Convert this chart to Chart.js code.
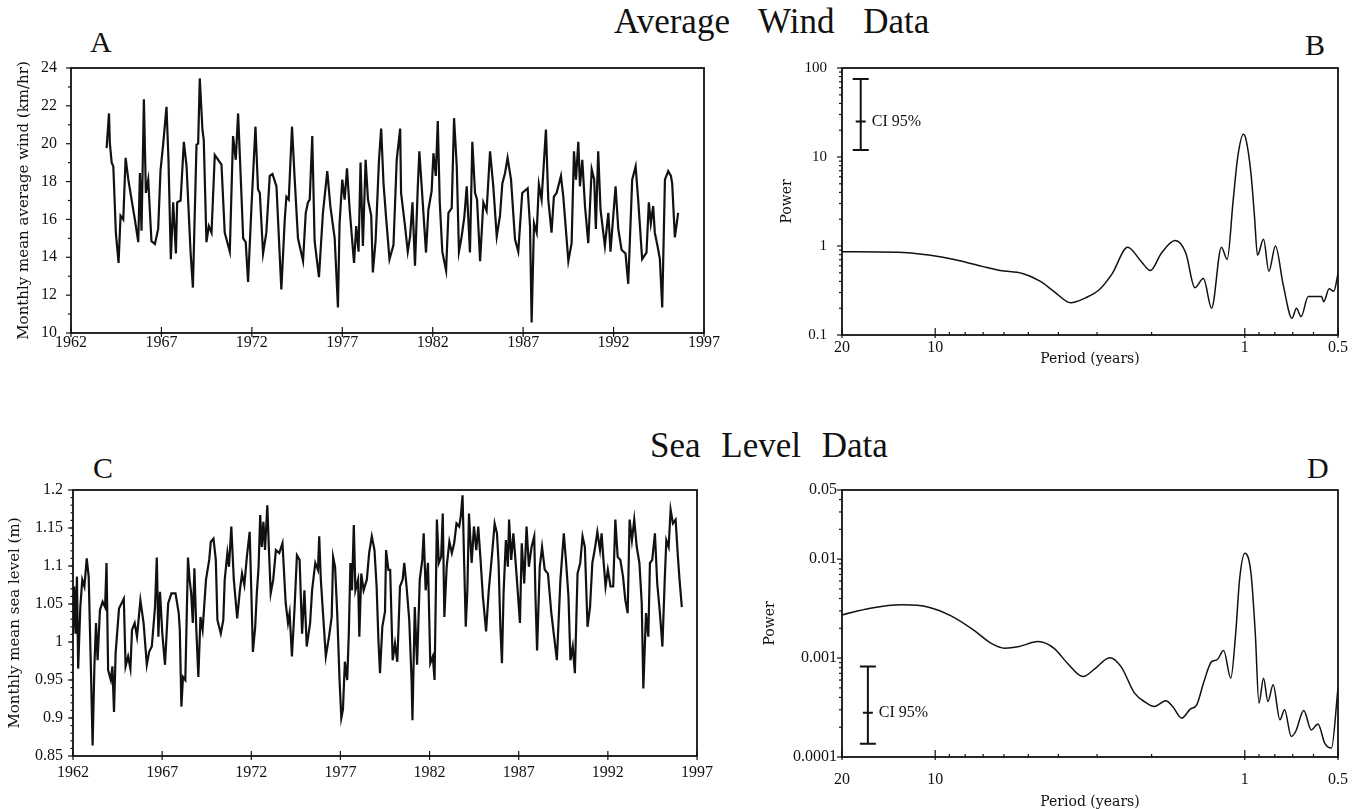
<!DOCTYPE html>
<html>
<head>
<meta charset="utf-8">
<script src="https://cdn.jsdelivr.net/npm/chart.js@4.4.1/dist/chart.umd.min.js"></script>
<style>
  body { margin: 0; background: #fff; width: 1362px; height: 809px; position: relative; overflow: hidden;
         font-family: 'Liberation Serif', serif; color: #111; }
  canvas { position: absolute; }
  .t { position: absolute; white-space: nowrap; line-height: 1; }
</style>
</head>
<body>
<div class="t" style="left:614px; top:4px; font-size:35px; word-spacing:20px;">Average Wind Data</div>
<div class="t" style="left:650px; top:428px; font-size:35px; word-spacing:12px;">Sea Level Data</div>
<div class="t" style="left:90px; top:27px; font-size:30px;">A</div>
<div class="t" style="left:1305px; top:30px; font-size:30px;">B</div>
<div class="t" style="left:93px; top:453px; font-size:30px;">C</div>
<div class="t" style="left:1307px; top:453px; font-size:30px;">D</div>

<canvas id="chartA" width="720" height="370" style="left:0; top:0;"></canvas>
<canvas id="chartB" width="622" height="375" style="left:740px; top:0;"></canvas>
<canvas id="chartC" width="720" height="389" style="left:0; top:420px;"></canvas>
<canvas id="chartD" width="622" height="389" style="left:740px; top:420px;"></canvas>

<script>
// ---- data ----
// A: monthly mean average wind (km/hr)
var windYear = [1963.97,1964.10,1964.15,1964.25,1964.34,1964.48,1964.63,1964.74,1964.89,1965.02,
  1965.17,1965.35,1965.53,1965.72,1965.81,1965.90,1966.03,1966.14,1966.27,1966.45,
  1966.64,1966.82,1966.95,1967.10,1967.28,1967.39,1967.52,1967.65,1967.80,1967.87,
  1968.06,1968.24,1968.39,1968.61,1968.74,1968.94,1969.03,1969.12,1969.27,1969.34,
  1969.49,1969.62,1969.77,1969.95,1970.14,1970.32,1970.50,1970.78,1970.96,1971.11,
  1971.24,1971.42,1971.52,1971.66,1971.79,1971.98,1972.20,1972.34,1972.44,1972.62,
  1972.80,1972.99,1973.14,1973.36,1973.63,1973.82,1973.91,1974.04,1974.22,1974.37,
  1974.55,1974.83,1974.98,1975.10,1975.20,1975.34,1975.47,1975.71,1975.93,1976.17,
  1976.34,1976.58,1976.76,1976.85,1977.00,1977.13,1977.26,1977.41,1977.65,1977.77,
  1977.90,1978.01,1978.14,1978.29,1978.42,1978.60,1978.69,1978.84,1979.03,1979.15,
  1979.28,1979.43,1979.61,
  1979.83,1980.01,1980.20,1980.25,1980.47,1980.62,1980.75,1980.88,1981.02,1981.17,
  1981.26,1981.39,1981.63,1981.76,1981.94,1982.04,1982.17,1982.28,1982.39,1982.53,
  1982.74,1982.87,1983.05,1983.18,1983.33,1983.45,1983.60,1983.75,1983.88,1984.06,
  1984.19,1984.34,1984.45,1984.62,1984.80,1984.98,1985.17,1985.35,1985.54,1985.72,
  1985.85,1986.00,1986.14,1986.33,1986.55,1986.73,1986.95,1987.25,1987.38,1987.47,
  1987.60,1987.75,1987.87,1988.02,1988.26,1988.39,1988.57,1988.70,1988.85,1989.09,
  1989.22,1989.50,1989.68,1989.81,1989.92,1990.05,1990.14,1990.27,1990.42,1990.60,
  1990.79,1990.93,1991.02,1991.15,1991.28,1991.52,1991.71,1991.83,1992.11,1992.26,
  1992.44,1992.66,1992.81,1993.03,1993.22,1993.36,1993.58,1993.82,1993.95,1994.06,
  1994.19,1994.28,1994.43,1994.56,1994.69,1994.84,1995.02,1995.17,1995.24,1995.39,
  1995.57];
var windSpeed = [19.77,21.6,20.0,19.0,18.8,15.3,13.7,16.2,16.0,19.25,
  18.1,17.05,16.0,14.8,18.45,15.4,22.35,17.4,18.1,14.85,
  14.7,15.5,18.6,20.0,21.95,19.15,13.9,16.9,14.2,16.9,
  17.0,20.1,18.8,14.3,12.4,19.95,20.0,23.45,20.7,20.2,
  14.8,15.65,15.3,19.4,19.15,18.9,15.3,14.3,20.4,19.15,
  21.6,17.4,15.0,14.8,12.7,16.7,20.9,17.6,17.4,14.2,
  15.3,18.3,18.4,17.75,12.3,16.0,17.2,17.05,20.9,18.1,
  15.0,13.8,16.35,16.9,17.05,20.4,14.85,12.95,16.35,18.55,
  16.7,15.0,11.35,15.8,18.1,17.05,18.7,16.5,13.7,15.65,
  14.3,19.0,14.6,19.15,17.05,16.2,13.2,14.85,19.15,20.8,
  17.9,16.0,13.9,
  14.65,19.15,20.8,17.4,15.65,14.3,15.1,16.9,13.55,17.6,
  19.6,17.75,14.25,16.5,17.5,19.5,18.3,21.2,16.9,14.3,
  13.3,16.35,16.6,21.35,18.8,14.3,15.1,16.15,17.75,14.25,
  20.1,17.4,17.05,13.8,16.9,16.45,19.6,17.75,15.1,16.2,
  17.9,18.45,19.25,18.1,14.95,14.3,17.4,17.65,15.65,10.55,
  15.8,15.3,17.85,17.05,20.75,17.05,15.3,17.2,17.4,18.3,
  17.2,13.8,14.75,19.6,18.1,20.1,17.75,19.15,16.7,14.75,
  18.65,18.1,15.5,19.6,16.5,14.6,16.35,14.3,17.75,15.5,
  14.4,14.2,12.6,18.1,18.8,17.05,13.9,14.25,16.9,15.8,
  16.7,15.3,14.6,13.9,11.35,18.1,18.55,18.3,17.9,15.05,
  16.35];

// C: monthly mean sea level (m)
var seaYear = [1962.00,1962.07,1962.15,1962.22,1962.29,1962.41,1962.52,1962.64,1962.77,1962.88,
  1963.01,1963.10,1963.20,1963.29,1963.38,1963.51,1963.66,1963.80,1963.88,1963.97,
  1964.12,1964.21,1964.30,1964.39,1964.58,1964.85,1964.95,1965.09,1965.22,1965.31,
  1965.46,1965.59,1965.78,1965.96,1966.14,1966.27,1966.42,1966.60,1966.70,1966.79,
  1966.88,1967.01,1967.16,1967.34,1967.52,1967.75,1967.93,1967.99,1968.08,1968.17,
  1968.30,1968.45,1968.54,1968.63,1968.72,1968.81,1968.91,1969.03,1969.15,1969.27,
  1969.46,1969.64,1969.73,1969.88,1970.01,1970.10,1970.29,1970.43,1970.51,1970.66,
  1970.75,1970.88,1971.02,1971.21,1971.36,1971.48,1971.61,1971.76,1971.91,1972.00,
  1972.09,1972.22,1972.31,1972.41,1972.50,1972.59,1972.68,1972.77,1972.90,1972.99,
  1973.09,1973.23,1973.38,1973.57,1973.75,1973.93,1974.06,1974.15,1974.28,1974.43,
  1974.56,1974.71,1974.85,1974.98,1975.11,1975.30,1975.41,1975.59,1975.74,1975.81,
  1975.90,1976.00,1976.18,1976.36,1976.51,1976.59,1976.70,1976.82,1976.95,1977.05,
  1977.14,1977.25,1977.38,1977.47,1977.56,1977.65,1977.75,1977.84,1977.99,1978.06,
  1978.17,1978.30,1978.48,1978.61,1978.76,1978.91,1979.03,1979.13,1979.22,1979.35,
  1979.50,
  1979.56,1979.69,1979.79,1979.93,1980.06,1980.19,1980.34,1980.49,1980.58,1980.71,
  1980.86,1980.99,1981.04,1981.17,1981.30,1981.45,1981.59,1981.67,1981.78,1981.91,
  1982.04,1982.18,1982.28,1982.41,1982.52,1982.65,1982.74,1982.83,1982.96,1983.11,
  1983.25,1983.38,1983.51,1983.66,1983.75,1983.85,1983.94,1984.03,1984.12,1984.21,
  1984.36,1984.49,1984.62,1984.73,1984.86,1984.99,1985.17,1985.32,1985.51,1985.65,
  1985.78,1985.87,1985.97,1986.06,1986.15,1986.28,1986.39,1986.46,1986.58,1986.70,
  1986.83,1986.94,1987.07,1987.17,1987.31,1987.44,1987.57,1987.72,1987.87,1987.94,
  1988.03,1988.18,1988.31,1988.46,1988.64,1988.83,1989.14,1989.34,1989.53,1989.66,
  1989.79,1989.90,1990.03,1990.15,1990.30,1990.45,1990.58,1990.71,1990.86,1991.00,
  1991.13,1991.26,1991.41,1991.56,1991.65,1991.74,1991.87,1992.00,1992.15,1992.30,
  1992.42,1992.55,1992.70,1992.85,1992.98,1993.11,1993.22,1993.35,1993.48,1993.62,
  1993.77,1993.90,1993.99,1994.14,1994.27,1994.36,1994.49,1994.64,1994.77,1994.92,
  1995.06,1995.19,1995.28,1995.41,1995.52,1995.65,1995.80,1995.93,1996.02,1996.15];
var seaLevel = [1.011,1.073,1.011,1.086,0.965,1.046,1.082,1.073,1.11,1.086,
  0.959,0.864,0.968,1.025,0.976,1.042,1.053,1.046,1.104,0.963,
  0.95,0.968,0.908,0.985,1.044,1.057,0.968,0.981,0.965,1.016,
  1.025,1.007,1.055,1.025,0.970,0.987,0.994,1.046,1.111,1.007,
  1.066,1.011,0.970,1.051,1.064,1.064,1.038,1.016,0.915,0.954,
  0.95,1.111,1.082,1.064,1.025,1.097,1.02,0.954,1.033,1.016,
  1.082,1.108,1.132,1.136,1.108,1.029,1.011,1.029,1.082,1.117,
  1.099,1.152,1.082,1.031,1.068,1.09,1.075,1.114,1.145,1.068,
  0.987,1.02,1.064,1.099,1.167,1.125,1.158,1.121,1.18,1.121,
  1.064,1.082,1.121,1.117,1.13,1.051,1.025,1.038,0.981,1.046,
  1.114,1.108,1.011,1.068,0.994,1.025,1.068,1.104,1.095,1.139,
  1.082,1.046,0.981,1.007,1.033,1.112,1.099,1.038,0.95,0.9,
  0.911,0.974,0.95,1.011,1.104,1.068,1.154,1.068,1.082,1.007,
  1.09,1.068,1.082,1.117,1.139,1.121,1.073,1.003,0.959,1.02,
  1.04,
  1.121,1.095,1.095,0.976,0.998,0.974,1.073,1.082,1.104,1.073,
  1.029,0.95,0.897,1.046,0.970,1.082,1.108,1.143,1.068,1.104,
  0.972,0.981,0.95,1.161,1.104,1.112,1.169,1.033,1.099,1.132,
  1.117,1.13,1.156,1.152,1.165,1.193,1.104,1.02,1.068,1.169,
  1.104,1.152,1.121,1.152,1.108,1.06,1.014,1.068,1.117,1.156,
  1.143,1.104,1.02,0.972,1.064,1.134,1.099,1.161,1.108,1.143,
  1.104,1.068,1.025,1.13,1.077,1.152,1.099,1.125,1.139,1.06,
  0.989,1.099,1.125,1.095,1.09,1.038,0.976,1.082,1.143,1.104,
  1.06,0.976,0.994,0.959,1.09,1.104,1.139,1.125,1.02,1.046,
  1.104,1.121,1.145,1.121,1.143,1.112,1.073,1.095,1.073,1.073,
  1.161,1.112,1.108,1.086,1.055,1.038,1.161,1.134,1.161,1.125,
  1.104,1.051,0.939,1.038,1.007,1.104,1.108,1.143,1.077,1.038,
  0.994,1.082,1.134,1.125,1.174,1.156,1.161,1.112,1.082,1.046];

// B: power spectrum of the wind series
var windPeriod = [20,13.3,10.5,8.6,7.05,6.17,5.22,4.57,4.14,3.65,
  3.28,2.96,2.68,2.39,2.16,2.02,1.86,1.68,1.55,1.45,
  1.36,1.28,1.19,1.14,1.09,1.054,1.01,0.99,0.955,0.93,
  0.91,0.87,0.836,0.796,0.752,0.704,0.681,0.658,0.624,0.565,
  0.556,0.534,0.516,0.5];
var windPower = [0.86,0.85,0.79,0.70,0.59,0.53,0.49,0.40,0.31,0.23,
  0.26,0.32,0.49,0.97,0.67,0.53,0.83,1.15,0.83,0.34,
  0.43,0.20,0.97,0.71,3.3,10,18,15.5,6.5,2.1,
  0.79,1.19,0.52,1.0,0.37,0.154,0.2,0.161,0.27,0.27,
  0.237,0.33,0.31,0.49];

// D: power spectrum of the sea level series
var seaPeriod = [20,16.2,12.8,10.5,8.89,7.53,6.59,5.96,5.40,4.65,
  4.14,3.74,3.33,3.06,2.73,2.51,2.27,2.09,1.96,1.80,
  1.71,1.60,1.50,1.43,1.36,1.28,1.23,1.17,1.11,1.07,
  1.04,1.0,0.955,0.925,0.90,0.87,0.842,0.81,0.77,0.744,
  0.708,0.685,0.645,0.61,0.58,0.552,0.525,0.5];
var seaPower = [0.00273,0.00319,0.00345,0.00327,0.00267,0.00193,0.00141,0.00126,0.0013,0.00147,
  0.00126,0.000888,0.00065,0.000772,0.00101,0.00082,0.000442,0.000356,0.000324,0.00037,
  0.000324,0.000247,0.000305,0.000337,0.000557,0.000922,0.00096,0.00119,0.000626,0.00178,
  0.00616,0.01146,0.0072,0.00178,0.00035,0.000626,0.000364,0.000536,0.000238,0.0003,
  0.000161,0.000181,0.000295,0.000188,0.000216,0.000138,0.000123,0.000497];

// 95% confidence bars: [low, centre, high]
var windCI = [12, 25, 75];
var seaCI = [0.000136, 0.00028, 0.00082];

// tick labels
var yearTicks = [1962, 1967, 1972, 1977, 1982, 1987, 1992, 1997];
var windTicks = [10, 12, 14, 16, 18, 20, 22, 24];
var seaTicks = [0.85, 0.9, 0.95, 1, 1.05, 1.1, 1.15, 1.2];
var periodTicks = [20, 10, 1, 0.5];
var windPowerTicks = [0.1, 1, 10, 100];
var seaPowerTicks = [0.0001, 0.001, 0.01, 0.05];

// ---- helpers ----
Chart.defaults.font.family = "'Liberation Serif', serif";
Chart.defaults.color = '#111';

var INK = '#111';
var titleFont = { family: "'DejaVu Serif', serif", size: 15, lineHeight: 1 };

function points(xs, ys) {
  return xs.map(function (x, i) { return { x: x, y: ys[i] }; });
}
function onList(v, list, isLog) {
  return list.find(function (t) {
    return isLog ? Math.abs(Math.log(v / t)) < 1e-6 : Math.abs(v - t) < 1e-6;
  });
}
function labeller(list, isLog) {
  return function (v) {
    var t = onList(v, list, isLog);
    return t === undefined ? '' : String(t);
  };
}
function logMinors(lo, hi) {
  var out = [];
  for (var e = Math.floor(Math.log10(lo)); e <= Math.ceil(Math.log10(hi)); e++) {
    for (var k = 2; k <= 9; k++) {
      var v = k * Math.pow(10, e);
      if (v > lo * 1.0001 && v < hi * 0.9999) out.push(v);
    }
  }
  return out;
}
function steps(lo, hi, step) {
  var out = [];
  for (var v = lo; v <= hi + 1e-9; v += step) out.push(+v.toFixed(4));
  return out;
}

// frame round the plot area, and tick marks drawn through the scales
var frameTicks = {
  id: 'frameTicks',
  afterDraw: function (chart, args, opts) {
    var ctx = chart.ctx, a = chart.chartArea;
    ctx.save();
    ctx.strokeStyle = INK;
    ctx.lineWidth = 1.8;
    ctx.strokeRect(a.left, a.top, a.right - a.left, a.bottom - a.top);
    ctx.lineWidth = 1.2;
    (opts.marks || []).forEach(function (m) {
      var s = chart.scales[m.axis];
      m.values.forEach(function (v) {
        var p = s.getPixelForValue(v);
        ctx.beginPath();
        if (m.axis === 'x') {
          ctx.moveTo(p, a.bottom - m.inner);
          ctx.lineTo(p, a.bottom + m.outer);
        } else {
          ctx.moveTo(a.left + m.inner, p);
          ctx.lineTo(a.left - m.outer, p);
        }
        ctx.stroke();
      });
    });
    ctx.restore();
  }
};

// confidence interval bar
var ciBar = {
  id: 'ciBar',
  afterDatasetsDraw: function (chart, args, o) {
    if (!o.values) return;
    var ctx = chart.ctx;
    var x = chart.scales.x.getPixelForValue(o.period);
    var y = chart.scales.y;
    var lo = y.getPixelForValue(o.values[0]);
    var mid = y.getPixelForValue(o.values[1]);
    var hi = y.getPixelForValue(o.values[2]);
    ctx.save();
    ctx.strokeStyle = INK;
    ctx.lineWidth = 2;
    ctx.beginPath();
    ctx.moveTo(x, lo); ctx.lineTo(x, hi);
    ctx.moveTo(x - 8, lo); ctx.lineTo(x + 8, lo);
    ctx.moveTo(x - 8, hi); ctx.lineTo(x + 8, hi);
    ctx.moveTo(x - 5, mid); ctx.lineTo(x + 5, mid);
    ctx.stroke();
    ctx.fillStyle = INK;
    ctx.font = "16px 'Liberation Serif', serif";
    ctx.textBaseline = 'middle';
    ctx.fillText('CI 95%', x + 11, mid);
    ctx.restore();
  }
};

function axisBase(extra) {
  var base = {
    grid: { display: false, drawTicks: false },
    border: { display: false },
    ticks: { autoSkip: false, maxRotation: 0, color: INK }
  };
  for (var k in extra) {
    if (k === 'ticks') Object.assign(base.ticks, extra.ticks);
    else base[k] = extra[k];
  }
  return base;
}

function makeChart(id, cfg) {
  return new Chart(document.getElementById(id), {
    type: 'line',
    data: {
      datasets: [{
        data: cfg.data,
        borderColor: INK,
        borderWidth: cfg.lineWidth,
        pointRadius: 0,
        fill: false,
        tension: 0,
        cubicInterpolationMode: cfg.smooth ? 'monotone' : 'default'
      }]
    },
    options: {
      responsive: false,
      animation: false,
      devicePixelRatio: 1,
      layout: { padding: cfg.padding },
      plugins: {
        legend: { display: false },
        tooltip: { enabled: false },
        frameTicks: { marks: cfg.marks },
        ciBar: cfg.ci || {}
      },
      scales: { x: cfg.x, y: cfg.y }
    },
    plugins: [frameTicks, ciBar]
  });
}

// ---- A: wind time series ----
makeChart('chartA', {
  data: points(windYear, windSpeed),
  lineWidth: 2.2,
  padding: { left: 0, top: 68, right: 15, bottom: 0 },
  x: axisBase({
    type: 'linear', min: 1962, max: 1997,
    afterFit: function (s) { s.height = 37; },
    ticks: { stepSize: 5, padding: 0, font: { size: 16 }, callback: labeller(yearTicks) }
  }),
  y: axisBase({
    type: 'linear', min: 10, max: 24,
    afterFit: function (s) { s.width = 71; },
    ticks: { stepSize: 2, padding: 14, font: { size: 16 }, callback: labeller(windTicks) },
    title: { display: true, text: 'Monthly mean average wind (km/hr)', color: INK, font: titleFont, padding: { top: 17 } }
  }),
  marks: [
    { axis: 'x', values: yearTicks, inner: 6, outer: 4 },
    { axis: 'y', values: windTicks, inner: 0, outer: 5 },
    { axis: 'y', values: steps(11, 23, 2), inner: 0, outer: 3 }
  ]
});

// ---- B: wind spectrum ----
makeChart('chartB', {
  data: points(windPeriod, windPower),
  lineWidth: 1.5,
  smooth: true,
  padding: { left: 0, top: 68, right: 24, bottom: 0 },
  x: axisBase({
    type: 'logarithmic', min: 0.5, max: 20, reverse: true,
    afterFit: function (s) { s.height = 40; },
    ticks: { padding: 3, font: { size: 16 }, callback: labeller(periodTicks, true) },
    title: { display: true, text: 'Period (years)', color: INK, font: { family: titleFont.family, size: 14, lineHeight: 1 }, padding: { bottom: 9 } }
  }),
  y: axisBase({
    type: 'logarithmic', min: 0.1, max: 100,
    afterFit: function (s) { s.width = 102; },
    ticks: { padding: 15, font: { size: 15 }, callback: labeller(windPowerTicks, true) },
    title: { display: true, text: 'Power', color: INK, font: { family: titleFont.family, size: 14, lineHeight: 1 }, padding: { top: 40 } }
  }),
  marks: [
    { axis: 'x', values: periodTicks, inner: 7, outer: 3 },
    { axis: 'x', values: logMinors(0.5, 20), inner: 3, outer: 0 },
    { axis: 'y', values: windPowerTicks, inner: 0, outer: 5 },
    { axis: 'y', values: logMinors(0.1, 100), inner: 0, outer: 3 }
  ],
  ci: { period: 17.4, values: windCI }
});

// ---- C: sea level time series ----
makeChart('chartC', {
  data: points(seaYear, seaLevel),
  lineWidth: 2.2,
  padding: { left: 0, top: 70, right: 14, bottom: 0 },
  x: axisBase({
    type: 'linear', min: 1962, max: 1997,
    afterFit: function (s) { s.height = 53; },
    ticks: { stepSize: 5, padding: 7, font: { size: 16 }, callback: labeller(yearTicks) }
  }),
  y: axisBase({
    type: 'linear', min: 0.85, max: 1.2,
    afterFit: function (s) { s.width = 73; },
    ticks: { stepSize: 0.05, padding: 10, font: { size: 16 }, callback: labeller(seaTicks) },
    title: { display: true, text: 'Monthly mean sea level (m)', color: INK, font: titleFont, padding: { top: 8 } }
  }),
  marks: [
    { axis: 'x', values: yearTicks, inner: 5, outer: 4 },
    { axis: 'y', values: seaTicks, inner: 0, outer: 5 },
    { axis: 'y', values: steps(0.86, 1.19, 0.01), inner: 0, outer: 2.5 }
  ]
});

// ---- D: sea level spectrum ----
makeChart('chartD', {
  data: points(seaPeriod, seaPower),
  lineWidth: 1.5,
  smooth: true,
  padding: { left: 0, top: 70, right: 24, bottom: 0 },
  x: axisBase({
    type: 'logarithmic', min: 0.5, max: 20, reverse: true,
    afterFit: function (s) { s.height = 52; },
    ticks: { padding: 13, font: { size: 16 }, callback: labeller(periodTicks, true) },
    title: { display: true, text: 'Period (years)', color: INK, font: { family: titleFont.family, size: 14, lineHeight: 1 }, padding: { bottom: 0 } }
  }),
  y: axisBase({
    type: 'logarithmic', min: 0.0001, max: 0.05,
    afterFit: function (s) { s.width = 102; },
    ticks: { padding: 5, font: { size: 16 }, callback: labeller(seaPowerTicks, true) },
    title: { display: true, text: 'Power', color: INK, font: { family: titleFont.family, size: 14, lineHeight: 1 }, padding: { top: 23 } }
  }),
  marks: [
    { axis: 'x', values: periodTicks, inner: 7, outer: 3 },
    { axis: 'x', values: logMinors(0.5, 20), inner: 3, outer: 0 },
    { axis: 'y', values: seaPowerTicks, inner: 0, outer: 5 },
    { axis: 'y', values: logMinors(0.0001, 0.05), inner: 0, outer: 3 }
  ],
  ci: { period: 16.5, values: seaCI }
});
</script>
</body>
</html>
